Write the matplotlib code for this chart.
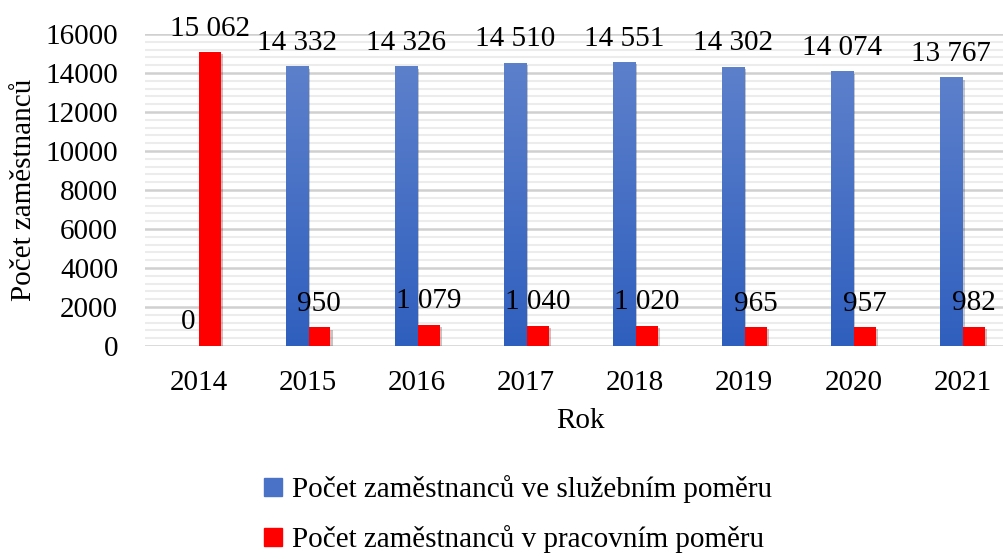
import matplotlib.pyplot as plt
import matplotlib.patheffects as pe
from matplotlib.colors import LinearSegmentedColormap
import numpy as np

plt.rcParams['font.family'] = ['Liberation Serif', 'DejaVu Serif']

years = ['2014', '2015', '2016', '2017', '2018', '2019', '2020', '2021']
sluzebni = [0, 14332, 14326, 14510, 14551, 14302, 14074, 13767]
pracovni = [15062, 950, 1079, 1040, 1020, 965, 957, 982]

lab_sluz = 'Počet zaměstnanců ve služebním poměru'
lab_prac = 'Počet zaměstnanců v pracovním poměru'

fs = 21

fig = plt.figure(figsize=(10.04, 5.59), dpi=100)
ax = fig.add_axes([144.5 / 1004, 1 - 346 / 559, (1017 - 144.5) / 1004, 312 / 559])

x = np.arange(len(years))
w = 0.205
shadow = [pe.SimplePatchShadow(offset=(1.5, -1.5), alpha=0.25), pe.Normal()]

b1 = ax.bar(x - w / 2, sluzebni, w, color='#4a72c6', label=lab_sluz, zorder=3,
            path_effects=shadow)
b2 = ax.bar(x + w / 2, pracovni, w, color='#ff0000', label=lab_prac, zorder=3,
            path_effects=shadow)

# gradient fill for the blue bars
grad = np.linspace(0, 1, 256).reshape(-1, 1)
cm = LinearSegmentedColormap.from_list('b', ['#2f5fbe', '#5d80cb'])
for r in b1:
    h = r.get_height()
    if h > 0:
        ax.imshow(grad, extent=[r.get_x(), r.get_x() + r.get_width(), 0, h],
                  origin='lower', aspect='auto', cmap=cm, zorder=3.5)

for r, v in zip(list(b1) + list(b2), sluzebni + pracovni):
    ax.annotate(f'{v:,}'.replace(',', ' '), (r.get_x() + r.get_width() / 2, v),
                xytext=(0, 12), textcoords='offset points', ha='center',
                va='baseline', fontsize=fs, zorder=5)

ax.set_xlim(-0.5, len(years) - 0.5)
ax.set_ylim(0, 16000)
ax.set_yticks(np.arange(0, 16001, 2000))
ax.set_yticks(np.arange(0, 16001, 400), minor=True)
ax.set_xticks(x)
ax.set_xticklabels(years)
ax.grid(axis='y', which='major', color='#d0d0d0', lw=1.8, zorder=0)
ax.grid(axis='y', which='minor', color='#ececec', lw=1.5, zorder=0)
ax.tick_params(which='both', length=0, labelsize=fs)
ax.tick_params(axis='x', pad=17)
ax.tick_params(axis='y', pad=19)
for s in ax.spines.values():
    s.set_visible(False)

ax.set_xlabel('Rok', fontsize=fs, labelpad=9)
ax.set_ylabel('Počet zaměstnanců', fontsize=fs, labelpad=6)

h1 = plt.Rectangle((0, 0), 1, 1, color='#4a72c6')
h2 = plt.Rectangle((0, 0), 1, 1, color='#ff0000')
fig.legend([h1, h2], [lab_sluz, lab_prac], loc='center', bbox_to_anchor=(0.516, 0.08),
           frameon=False, fontsize=fs, handlelength=0.6, handleheight=0.6,
           handletextpad=0.35, labelspacing=0.75)

fig.savefig('out.png', dpi=100)
